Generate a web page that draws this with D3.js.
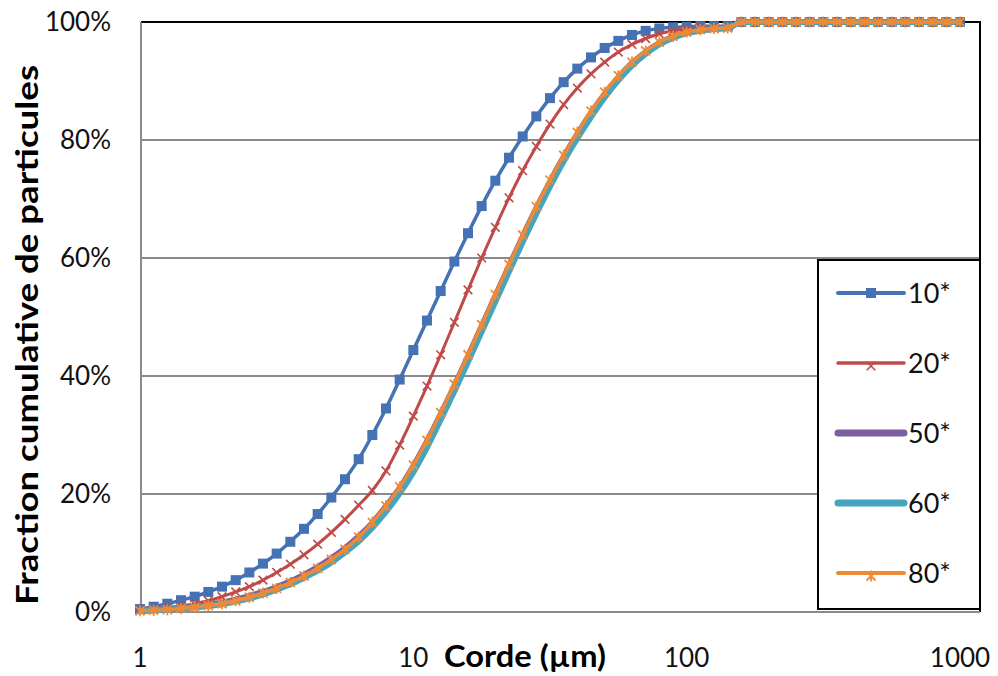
<!DOCTYPE html>
<html><head><meta charset="utf-8">
<script src="https://cdn.jsdelivr.net/npm/d3@7"></script>
<style>body{margin:0;background:#fff}text{font-family:Lato,"Open Sans",sans-serif}</style>
</head><body><svg id="c" width="998" height="676"></svg>
<script>
const sizes = [1,1.122,1.259,1.413,1.585,1.778,1.995,2.239,2.512,2.818,3.162,3.548,3.981,4.467,5.012,5.623,6.310,7.079,7.943,8.913,
10,11.22,12.59,14.13,15.85,17.78,19.95,22.39,25.12,28.18,31.62,35.48,39.81,44.67,50.12,56.23,63.10,70.79,79.43,89.13,
100,112.2,125.9,141.3,158.5,177.8,199.5,223.9,251.2,281.8,316.2,354.8,398.1,446.7,501.2,562.3,631.0,707.9,794.3,891.3,1000];
const plateau = [100,100,100,100,100,100,100,100,100,100,100,100,100,100,100,100,100];
const s10 = [0.5,0.9,1.4,2.0,2.6,3.4,4.3,5.4,6.7,8.2,9.9,11.9,14.1,16.6,19.4,22.5,25.9,30.0,34.5,39.4,44.4,49.4,54.4,59.4,64.2,68.8,73.1,77.0,80.6,84.0,87.1,89.8,92.1,94.0,95.6,96.8,97.8,98.5,98.9,99.1,99.2,99.3,99.3,99.3].concat(plateau);
const s20 = [0.3,0.5,0.7,1.0,1.4,1.9,2.6,3.4,4.3,5.4,6.7,8.1,9.7,11.5,13.5,15.7,18.1,20.6,23.9,28.3,33.2,38.3,43.6,49.1,54.6,60.0,65.2,70.2,74.8,78.9,82.7,86.0,88.8,91.2,93.2,94.9,96.2,97.2,98.0,98.5,98.8,98.9,99.0,99.0].concat(plateau);
const s50 = [0.2,0.3,0.5,0.7,0.9,1.2,1.6,2.1,2.7,3.4,4.2,5.2,6.3,7.6,9.1,10.8,12.8,15.1,17.9,21.0,24.7,28.9,33.5,38.3,43.3,48.4,53.5,58.6,63.6,68.4,72.9,77.1,81.0,84.6,87.8,90.6,93.0,94.9,96.4,97.5,98.2,98.6,98.9,99.0].concat(plateau);
const s60 = [0.2,0.3,0.4,0.6,0.8,1.0,1.3,1.8,2.3,3.0,3.8,4.7,5.8,7.0,8.4,10.1,12.0,14.3,17.0,20.1,23.7,27.9,32.6,37.4,42.4,47.5,52.6,57.7,62.7,67.5,72.1,76.4,80.3,83.9,87.2,90.1,92.6,94.6,96.2,97.3,98.1,98.5,98.8,99.0].concat(plateau);
const s80 = [0.2,0.3,0.4,0.6,0.8,1.1,1.4,1.9,2.5,3.2,4.0,5.0,6.1,7.4,8.9,10.6,12.7,15.2,18.0,21.2,24.9,29.1,33.8,38.6,43.6,48.7,53.8,58.9,63.9,68.7,73.2,77.4,81.3,84.9,88.1,90.9,93.2,95.1,96.6,97.6,98.3,98.7,98.9,99.0].concat(plateau);
const seriesNames = ["10*","20*","50*","60*","80*"];
const seriesValues = [s10,s20,s50,s60,s80];
const yTicks = [0,20,40,60,80,100];
const xTicks = [1,10,100,1000];

const styles = {
  "10*":{color:"#4472B4",w:3.5,marker:"square"},
  "20*":{color:"#BE4B48",w:3,marker:"x"},
  "50*":{color:"#7D5FA0",w:6,marker:null},
  "60*":{color:"#46A5BE",w:6,marker:null},
  "80*":{color:"#EE8A36",w:3.5,marker:"star"}
};

const svg = d3.select("#c");
const x = d3.scaleLog().domain([1,1000]).range([140,960]);
const y = d3.scaleLinear().domain([0,100]).range([612,22]);
const L=141,R=980,T=22,B=612;

svg.append("g").selectAll("line").data(yTicks.filter(d=>d>0)).join("line")
  .attr("x1",L).attr("x2",R).attr("y1",d=>y(d)).attr("y2",d=>y(d))
  .attr("stroke",d=>d===100?"#000":"#8a8a8a").attr("stroke-width",2);
svg.append("line").attr("x1",R).attr("x2",R).attr("y1",T-1).attr("y2",B).attr("stroke","#000").attr("stroke-width",2);
svg.append("line").attr("x1",L).attr("x2",L).attr("y1",T).attr("y2",B).attr("stroke","#8a8a8a").attr("stroke-width",2);
svg.append("line").attr("x1",L).attr("x2",R).attr("y1",B).attr("y2",B).attr("stroke","#8a8a8a").attr("stroke-width",2);

svg.append("g").selectAll("text").data(yTicks).join("text")
  .attr("x",111).attr("y",d=>y(d)).attr("dy","0.36em").attr("text-anchor","end")
  .attr("font-size",26).attr("fill","#111").text(d=>d+"%");
svg.append("g").selectAll("text").data(xTicks).join("text")
  .attr("x",d=>x(d)).attr("y",667).attr("text-anchor","middle")
  .attr("font-size",26).attr("fill","#111").text(d=>d);

svg.append("text").attr("x",525).attr("y",667).attr("text-anchor","middle")
  .attr("font-size",30).attr("font-weight","bold").attr("textLength",162).attr("lengthAdjust","spacingAndGlyphs")
  .text("Corde (µm)");
svg.append("text").attr("transform","translate(38,335) rotate(-90)").attr("text-anchor","middle")
  .attr("font-size",30).attr("font-weight","bold").attr("textLength",540).attr("lengthAdjust","spacingAndGlyphs")
  .text("Fraction cumulative de particules");

function drawMarker(g, type, color, cx, cy){
  if(type==="square"){
    g.append("rect").attr("x",cx-5).attr("y",cy-5).attr("width",10).attr("height",10).attr("fill",color);
  } else if(type==="x"){
    const r=4.3;
    g.append("path").attr("d",`M${cx-r},${cy-r}L${cx+r},${cy+r}M${cx-r},${cy+r}L${cx+r},${cy-r}`)
      .attr("stroke",color).attr("stroke-width",1.6).attr("fill","none");
  } else if(type==="star"){
    const r=4.5;
    g.append("path").attr("d",`M${cx-r},${cy-r}L${cx+r},${cy+r}M${cx-r},${cy+r}L${cx+r},${cy-r}M${cx},${cy-r-1}L${cx},${cy+r+1}`)
      .attr("stroke",color).attr("stroke-width",1.8).attr("fill","none");
  }
}

const line = d3.line().x(d=>x(d[0])).y(d=>y(d[1])).curve(d3.curveMonotoneX);
seriesNames.forEach((name,i)=>{
  const st = styles[name];
  const pts = sizes.map((s,j)=>[s,seriesValues[i][j]]);
  const g = svg.append("g");
  g.append("path").attr("d",line(pts)).attr("fill","none").attr("stroke",st.color).attr("stroke-width",st.w).attr("stroke-linejoin","round");
  if(st.marker) pts.forEach(p=>drawMarker(g, st.marker, st.color, x(p[0]), y(p[1])));
});

const lg = svg.append("g");
lg.append("rect").attr("x",818).attr("y",260).attr("width",162).attr("height",349)
  .attr("fill","#fff").attr("stroke","#000").attr("stroke-width",2);
seriesNames.forEach((name,i)=>{
  const st = styles[name];
  const cy = 293 + i*70;
  lg.append("line").attr("x1",838).attr("x2",904).attr("y1",cy).attr("y2",cy)
    .attr("stroke",st.color).attr("stroke-width",st.w+(st.marker?0.5:1)).attr("stroke-linecap","round");
  if(st.marker) drawMarker(lg, st.marker, st.color, 871, cy+(st.marker==="square"?0:3));
  lg.append("text").attr("x",908).attr("y",cy).attr("dy","0.36em").attr("font-size",27).attr("fill","#111").text(name);
});
</script></body></html>
